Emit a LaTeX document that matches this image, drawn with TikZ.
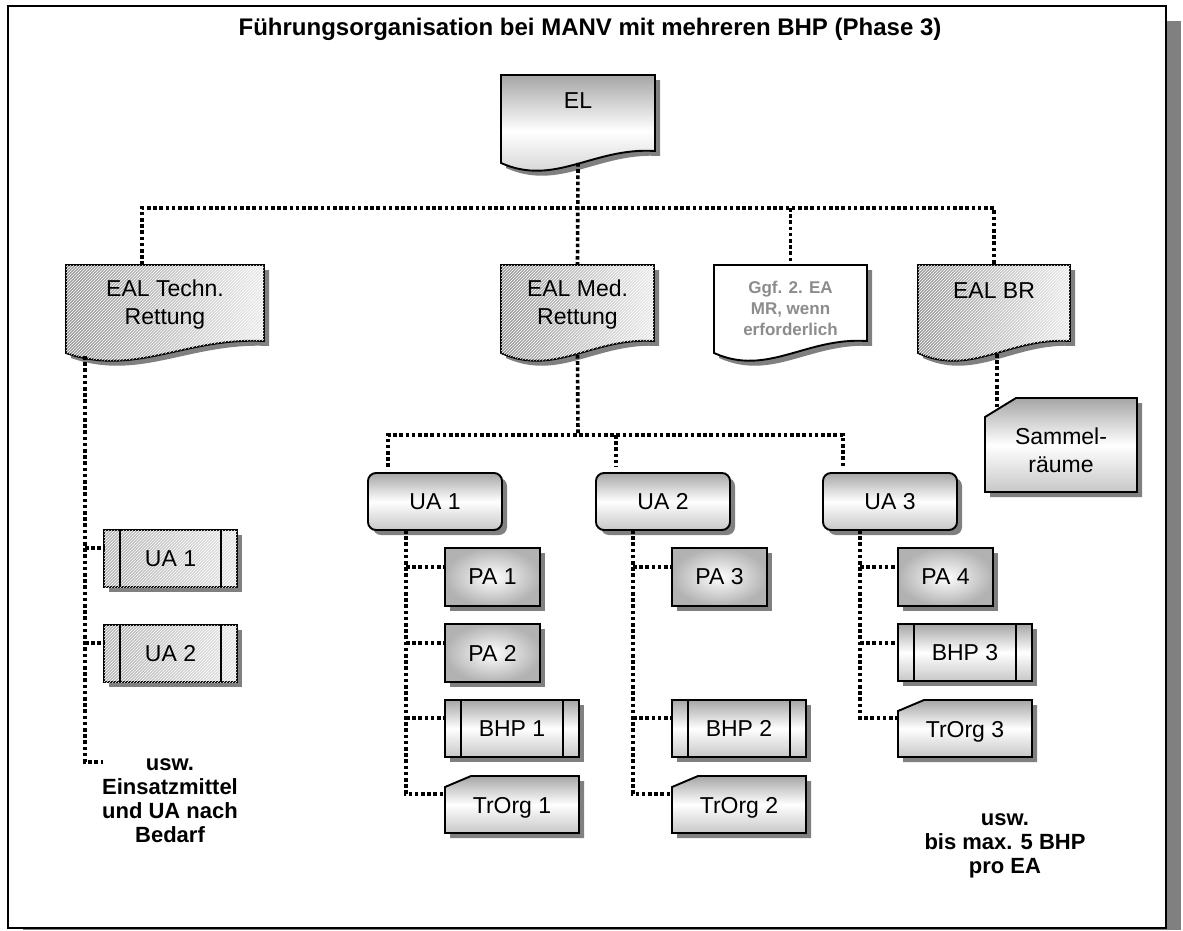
\documentclass[tikz,border=0pt]{standalone}
\usepackage{fontspec}
\setmainfont{Liberation Sans}
\usetikzlibrary{calc,patterns}
\newcommand{\MkDoc}[5]{%
 \begin{scope}[shift={(#2,#3)}]
  \fill[black!50,shift={(5,5)}] (0,0) -- (#4,0) -- (#4,76) .. controls ({0.6*#4},72) and ({0.35*#4},112) .. (0,88) -- cycle;
  \path[box,#5] (0,0) -- (#4,0) -- (#4,76) .. controls ({0.6*#4},72) and ({0.35*#4},112) .. (0,88) -- cycle;
  \node[geom,minimum width=#4pt,minimum height=88pt,anchor=north west] (#1) at (0,0) {};
 \end{scope}}
\newcommand{\MkRnd}[6]{%
 \begin{scope}[shift={(#2,#3)}]
  \fill[black!50,rounded corners=8pt] (5,5) rectangle ({#4+5},{#5+5});
  \path[box,#6,rounded corners=8pt] (0,0) rectangle (#4,#5);
  \node[geom,minimum width=#4pt,minimum height=#5pt,anchor=north west] (#1) at (0,0) {};
 \end{scope}}
\newcommand{\MkRect}[6]{%
 \begin{scope}[shift={(#2,#3)}]
  \fill[black!50] (5,5) rectangle ({#4+5},{#5+5});
  \path[box,#6] (0,0) rectangle (#4,#5);
  \node[geom,minimum width=#4pt,minimum height=#5pt,anchor=north west] (#1) at (0,0) {};
 \end{scope}}
\newcommand{\MkBar}[6]{%
 \begin{scope}[shift={(#2,#3)}]
  \fill[black!50] (5,5) rectangle ({#4+5},{#5+5});
  \path[box,#6] (0,0) rectangle (#4,#5);
  \draw[box] (16,0) -- (16,#5) ({#4-16},0) -- ({#4-16},#5);
  \node[geom,minimum width=#4pt,minimum height=#5pt,anchor=north west] (#1) at (0,0) {};
 \end{scope}}
\newcommand{\MkCut}[8]{%
 \begin{scope}[shift={(#2,#3)}]
  \fill[black!50,shift={(5,5)}] (0,#7) -- (#6,0) -- (#4,0) -- (#4,#5) -- (0,#5) -- cycle;
  \path[box,#8] (0,#7) -- (#6,0) -- (#4,0) -- (#4,#5) -- (0,#5) -- cycle;
  \node[geom,minimum width=#4pt,minimum height=#5pt,anchor=north west] (#1) at (0,0) {};
 \end{scope}}
\begin{document}
\begin{tikzpicture}[x=1pt,y=-1pt,
  box/.style={draw=black,line width=1.9pt,line join=miter},
  geom/.style={inner sep=0pt,outer sep=0pt,draw=none,fill=none},
  gradv/.style={top color=black!35,bottom color=black!22,middle color=white},
  radial/.style={inner color=white,outer color=black!30},
  hatch/.style={left color=black!40,right color=black!8,postaction={pattern=north east lines,pattern color=white}},
  hatchl/.style={left color=black!30,right color=black!10,postaction={pattern=north east lines,pattern color=white}},
  conn/.style={line width=3.6pt,dash pattern=on 3.6pt off 2.6pt},
  lbl/.style={font=\fontsize{23}{28}\selectfont,align=center,inner sep=0pt},
  note/.style={font=\fontsize{22}{24}\selectfont\bfseries,align=center,inner sep=0pt},
  gnote/.style={font=\fontsize{17}{21}\selectfont\bfseries,text=black!45,align=center,inner sep=0pt}]
\useasboundingbox (0,0) rectangle (1183,930);
\fill[white] (0,0) rectangle (1183,930);
% frame with shadow
\fill[black!50] (23,21) rectangle (1181,930);
\draw[line width=2pt,fill=white] (8,6) rectangle (1166,928);
\node[font=\fontsize{24}{28}\selectfont\bfseries,inner sep=0pt] (title) at (590,29) {Führungsorganisation bei MANV mit mehreren BHP (Phase 3)};
% shapes
\MkDoc{el}{501}{75}{154}{gradv}
\MkDoc{ealt}{66}{265}{198}{hatch}
\MkDoc{ealm}{501}{265}{153}{hatch}
\MkDoc{ggf}{714}{265}{153}{fill=white}
\MkDoc{ealbr}{918}{265}{152}{hatch}
\MkBar{tua1}{104}{530}{133}{57}{hatchl}
\MkBar{tua2}{104}{625}{133}{57}{hatchl}
\MkRnd{ua1}{368}{473}{134}{57}{gradv}
\MkRnd{ua2}{596}{473}{134}{57}{gradv}
\MkRnd{ua3}{823}{473}{134}{57}{gradv}
\MkRect{pa1}{445}{548}{95}{58}{radial}
\MkRect{pa2}{445}{624}{95}{58}{radial}
\MkRect{pa3}{672}{548}{95}{58}{radial}
\MkRect{pa4}{898}{548}{95}{58}{radial}
\MkBar{bhp1}{445}{700}{134}{57}{gradv}
\MkBar{bhp2}{672}{700}{134}{57}{gradv}
\MkBar{bhp3}{898}{624}{134}{57}{gradv}
\MkCut{tr1}{445}{776}{134}{57}{26}{11}{gradv}
\MkCut{tr2}{672}{776}{134}{57}{26}{11}{gradv}
\MkCut{tr3}{898}{700}{134}{57}{26}{11}{gradv}
\MkCut{sam}{985}{398}{152}{94}{31}{19}{gradv}
% labels
\node[lbl] (el-t) at ($(el.north)+(0,26)$) {EL};
\node[lbl] (ealt-t) at ($(ealt.north)+(0,40)$) {EAL Techn.\\Rettung};
\node[lbl] (ealm-t) at ($(ealm.north)+(0,40)$) {EAL Med.\\Rettung};
\node[gnote] (ggf-t) at ($(ggf.north)+(0,43)$) {Ggf. 2. EA\\MR, wenn\\erforderlich};
\node[lbl] (ealbr-t) at ($(ealbr.north)+(0,26)$) {EAL BR};
\node[lbl] (tua1-t) at (tua1) {UA 1};
\node[lbl] (tua2-t) at (tua2) {UA 2};
\node[lbl] (ua1-t) at (ua1) {UA 1};
\node[lbl] (ua2-t) at (ua2) {UA 2};
\node[lbl] (ua3-t) at (ua3) {UA 3};
\node[lbl] (pa1-t) at (pa1) {PA 1};
\node[lbl] (pa2-t) at (pa2) {PA 2};
\node[lbl] (pa3-t) at (pa3) {PA 3};
\node[lbl] (pa4-t) at (pa4) {PA 4};
\node[lbl] (bhp1-t) at (bhp1) {BHP 1};
\node[lbl] (bhp2-t) at (bhp2) {BHP 2};
\node[lbl] (bhp3-t) at (bhp3) {BHP 3};
\node[lbl] (tr1-t) at ($(tr1)+(0,3)$) {TrOrg 1};
\node[lbl] (tr2-t) at ($(tr2)+(0,3)$) {TrOrg 2};
\node[lbl] (tr3-t) at ($(tr3)+(0,3)$) {TrOrg 3};
\node[lbl] (sam-t) at ($(sam)+(0,5)$) {Sammel-\\räume};
\node[note] (note1) at (170,801) {usw.\\Einsatzmittel\\und UA nach\\Bedarf};
\node[note] (note2) at (1005,846) {usw.\\bis max. 5 BHP\\pro EA};
% connectors level 1
\coordinate (bus) at (578,208);
\draw[conn] (el.south) -- (ealm.north);
\draw[conn] ([xshift=76pt]ealt.north west) |- (bus) -| (ealbr.north);
\draw[conn] (bus -| ggf.north) -- (ggf.north);
% technical branch
\coordinate (ttop) at ([xshift=19pt,yshift=-3pt]ealt.south west);
\coordinate (tend) at (103,762);
\draw[conn] (ttop) |- (tend);
\coordinate (tb1) at ($(tua1.north west)+(0,18)$);
\coordinate (tb2) at ($(tua2.north west)+(0,18)$);
\draw[conn] (ttop |- tb1) -- (tb1);
\draw[conn] (ttop |- tb2) -- (tb2);
% medical branch
\coordinate (bus2) at (578,435);
\coordinate (d1) at ([xshift=20pt,yshift=6pt]ua1.north west);
\coordinate (d2) at ([xshift=20pt,yshift=6pt]ua2.north west);
\coordinate (d3) at ([xshift=20pt,yshift=6pt]ua3.north west);
\draw[conn] ([yshift=-2pt]ealm.south) -- (bus2);
\draw[conn] (d1) |- (bus2) -| (d3);
\draw[conn] (bus2 -| d2) -- (d2);
% UA 1 trunk
\coordinate (u1) at ([xshift=38pt]ua1.south west);
\coordinate (b11) at ($(pa1.north west)+(0,19)$);
\coordinate (b12) at ($(pa2.north west)+(0,19)$);
\coordinate (b13) at ($(bhp1.north west)+(0,18)$);
\coordinate (b14) at ($(tr1.north west)+(0,18)$);
\draw[conn] (u1) |- (b14);
\draw[conn] (u1 |- b11) -- (b11);
\draw[conn] (u1 |- b12) -- (b12);
\draw[conn] (u1 |- b13) -- (b13);
% UA 2 trunk
\coordinate (u2) at ([xshift=37pt]ua2.south west);
\coordinate (b21) at ($(pa3.north west)+(0,19)$);
\coordinate (b22) at ($(bhp2.north west)+(0,18)$);
\coordinate (b23) at ($(tr2.north west)+(0,18)$);
\draw[conn] (u2) |- (b23);
\draw[conn] (u2 |- b21) -- (b21);
\draw[conn] (u2 |- b22) -- (b22);
% UA 3 trunk
\coordinate (u3) at ([xshift=37pt]ua3.south west);
\coordinate (b31) at ($(pa4.north west)+(0,19)$);
\coordinate (b32) at ($(bhp3.north west)+(0,19)$);
\coordinate (b33) at ($(tr3.north west)+(0,18)$);
\draw[conn] (u3) |- (b33);
\draw[conn] (u3 |- b31) -- (b31);
\draw[conn] (u3 |- b32) -- (b32);
% EAL BR to Sammelraeume
\draw[conn] ([xshift=79pt,yshift=-1pt]ealbr.south west) -- ($(sam.north west)+(12,10)$);
\end{tikzpicture}
\end{document}
